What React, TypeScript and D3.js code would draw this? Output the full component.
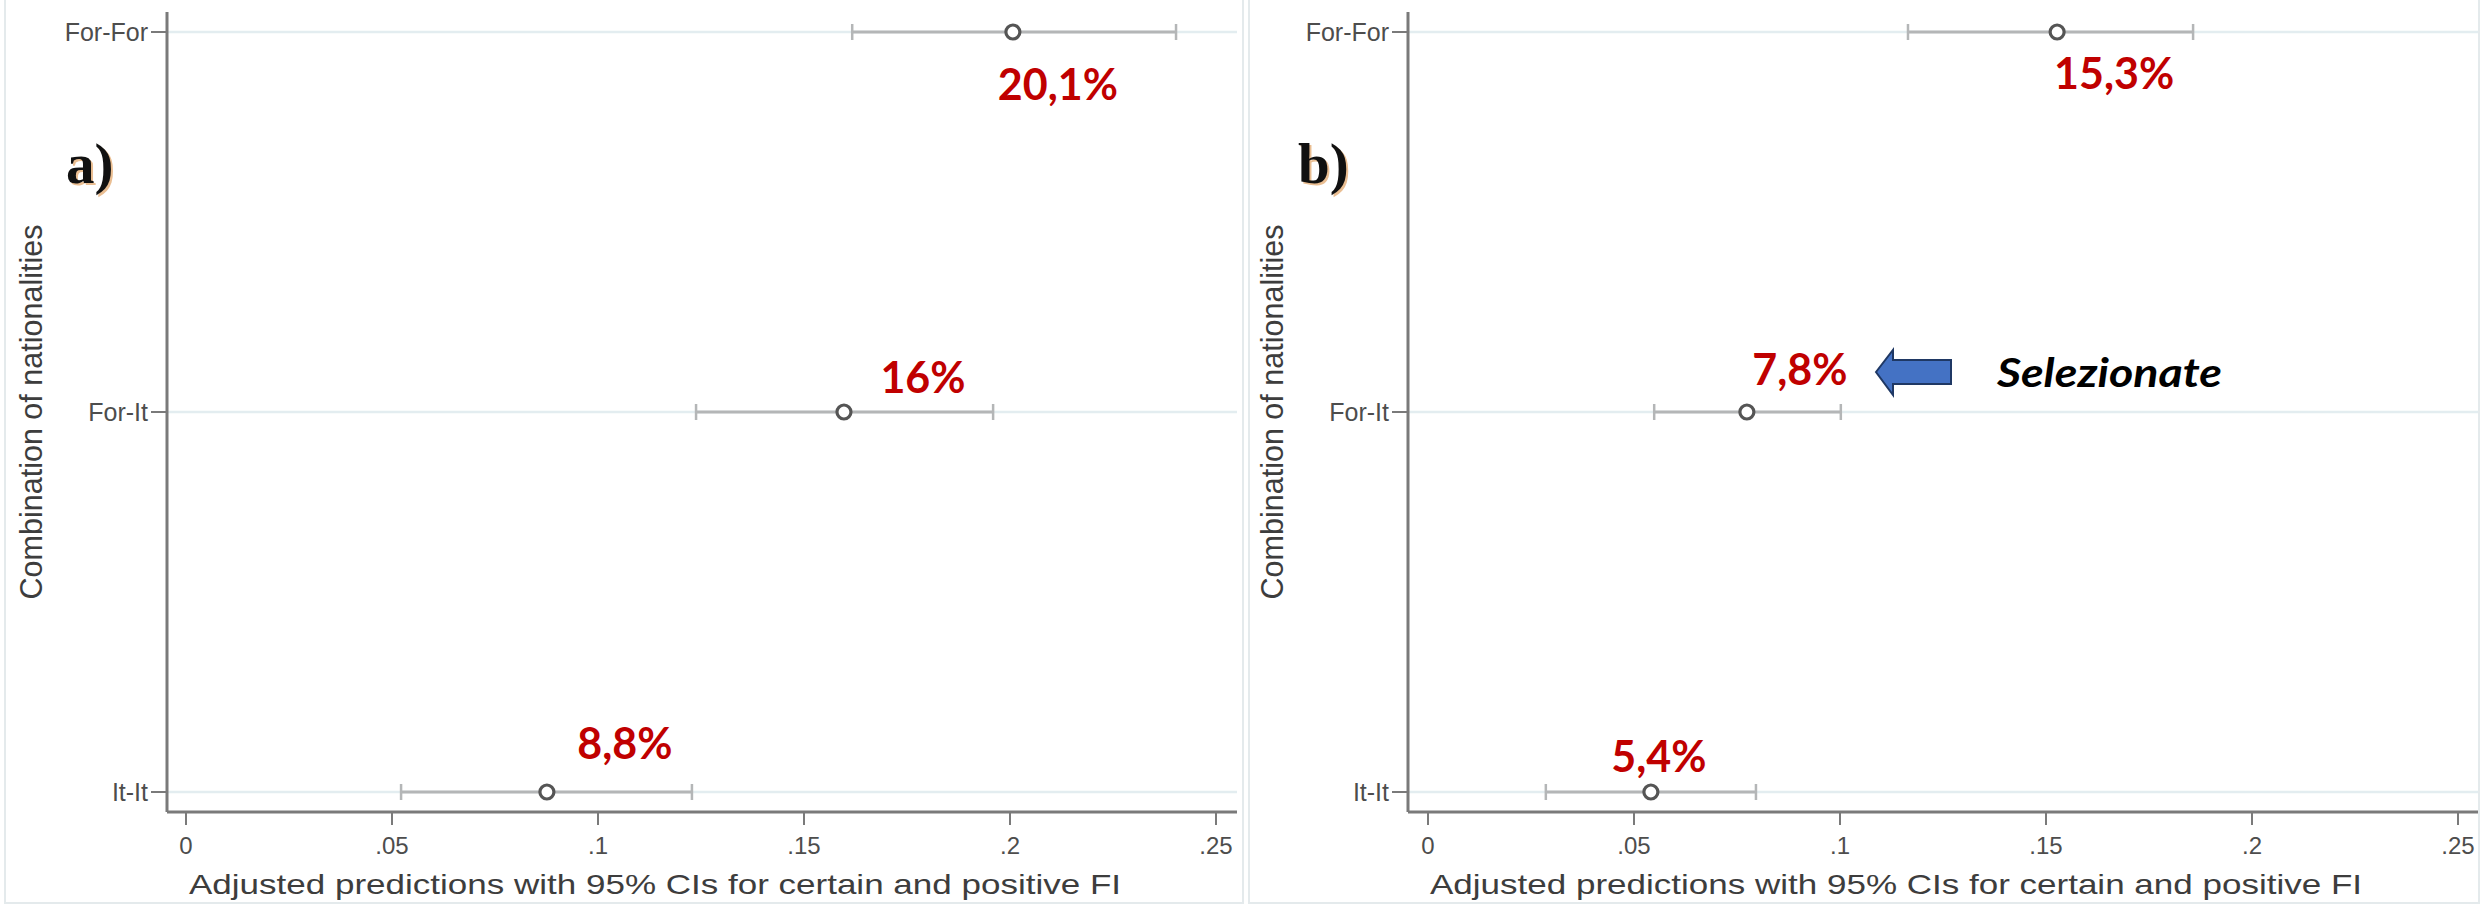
import React from "react";
import * as d3 from "d3";

const categories = ["For-For", "For-It", "It-It"];
const xTickValues = [0, 0.05, 0.1, 0.15, 0.2, 0.25];
const xTickLabels = ["0", ".05", ".1", ".15", ".2", ".25"];

const estA = [0.2007, 0.1597, 0.0876];
const lowA = [0.1617, 0.1238, 0.0522];
const highA = [0.2403, 0.1959, 0.1228];
const labelsA = ["20,1%", "16%", "8,8%"];

const estB = [0.1527, 0.0774, 0.0541];
const lowB = [0.1165, 0.0549, 0.0286];
const highB = [0.1857, 0.1002, 0.0796];
const labelsB = ["15,3%", "7,8%", "5,4%"];

const yTitle = "Combination of nationalities";
const xTitle = "Adjusted predictions with 95% CIs for certain and positive FI";

// annotation offsets (label centre relative to the point, baseline relative to the row)
const offsetsA = [[45, 68], [79, -19], [78, -33]];
const offsetsB = [[57, 57], [53, -27], [8, -20]];

const W = 2483;
const H = 905;

type PanelProps = {
  panelLeft: number;
  panelRight: number;
  axisX: number;
  xRange: [number, number];
  axisEnd: number;
  est: number[];
  low: number[];
  high: number[];
  labels: string[];
  offsets: number[][];
  letter: string;
  letterX: number;
  yTitleX: number;
  xTitleX: number;
};

const Panel = (p: PanelProps) => {
  const x = d3.scaleLinear().domain([0, 0.25]).range(p.xRange);
  const y = d3.scalePoint<string>().domain(categories).range([32, 792]);
  const axisY = 812;
  const axisTop = 12;
  const axisColor = "#7a7a7a";
  return (
    <g>
      <rect x={p.panelLeft} y={-3} width={p.panelRight - p.panelLeft} height={H + 1} fill="#fff" stroke="#e4eaec" strokeWidth={2} />
      {categories.map((c) => (
        <line key={"g" + c} x1={p.axisX} x2={p.axisEnd} y1={y(c)} y2={y(c)} stroke="#e3edf0" strokeWidth={2.5} />
      ))}
      <line x1={p.axisX} x2={p.axisX} y1={axisTop} y2={axisY} stroke={axisColor} strokeWidth={3} />
      {categories.map((c) => (
        <g key={"yt" + c}>
          <line x1={p.axisX - 16} x2={p.axisX} y1={y(c)} y2={y(c)} stroke={axisColor} strokeWidth={2} />
          <text x={p.axisX - 19} y={(y(c) as number) + 9} textAnchor="end" fontFamily="Liberation Sans, Arial, sans-serif" fontSize={25} fill="#4d4d4d">
            {c}
          </text>
        </g>
      ))}
      <line x1={p.axisX} x2={p.axisEnd} y1={axisY} y2={axisY} stroke={axisColor} strokeWidth={3} />
      {xTickValues.map((v, i) => (
        <g key={"xt" + v}>
          <line x1={x(v)} x2={x(v)} y1={axisY} y2={axisY + 13} stroke={axisColor} strokeWidth={2} />
          <text x={x(v)} y={axisY + 42} textAnchor="middle" fontFamily="Liberation Sans, Arial, sans-serif" fontSize={24} fill="#4d4d4d">
            {xTickLabels[i]}
          </text>
        </g>
      ))}
      <text
        transform={`translate(${p.yTitleX},412) rotate(-90)`}
        textAnchor="middle"
        fontFamily="Liberation Sans, Arial, sans-serif"
        fontSize={31}
        fill="#3d3d3d"
        textLength={375}
        lengthAdjust="spacingAndGlyphs"
      >
        {yTitle}
      </text>
      <text x={p.xTitleX} y={894} textAnchor="middle" fontFamily="Liberation Sans, Arial, sans-serif" fontSize={28} fill="#3d3d3d" textLength={932} lengthAdjust="spacingAndGlyphs">
        {xTitle}
      </text>
      {categories.map((c, i) => {
        const yy = y(c) as number;
        return (
          <g key={"pt" + c}>
            <line x1={x(p.low[i])} x2={x(p.high[i])} y1={yy} y2={yy} stroke="#b4b6b7" strokeWidth={3} />
            <line x1={x(p.low[i])} x2={x(p.low[i])} y1={yy - 8} y2={yy + 8} stroke="#b4b6b7" strokeWidth={2.5} />
            <line x1={x(p.high[i])} x2={x(p.high[i])} y1={yy - 8} y2={yy + 8} stroke="#b4b6b7" strokeWidth={2.5} />
            <circle cx={x(p.est[i])} cy={yy} r={7} fill="#fff" stroke="#555" strokeWidth={3.2} />
            <text
              x={x(p.est[i]) + p.offsets[i][0]}
              y={yy + p.offsets[i][1]}
              textAnchor="middle"
              fontFamily="Lato, 'Open Sans', sans-serif"
              fontWeight={700}
              fontSize={43}
              fill="#c00000"
            >
              {p.labels[i]}
            </text>
          </g>
        );
      })}
      <text x={p.letterX + 2} y={185} fontFamily="'Liberation Serif', 'DejaVu Serif', serif" fontWeight={700} fontSize={57} fill="#d98a3a" opacity={0.55}>
        {p.letter}
      </text>
      <text x={p.letterX} y={183} fontFamily="'Liberation Serif', 'DejaVu Serif', serif" fontWeight={700} fontSize={57} fill="#111">
        {p.letter}
      </text>
    </g>
  );
};

export default function App() {
  return (
    <svg width={W} height={H} viewBox={`0 0 ${W} ${H}`} style={{ position: "absolute", left: 0, top: 0, background: "#fff" }}>
      <rect x={0} y={0} width={W} height={H} fill="#fff" />
      <Panel
        panelLeft={5}
        panelRight={1243}
        axisX={167}
        xRange={[186, 1216]}
        axisEnd={1237}
        est={estA}
        low={lowA}
        high={highA}
        labels={labelsA}
        offsets={offsetsA}
        letter="a)"
        letterX={66}
        yTitleX={42}
        xTitleX={655}
      />
      <Panel
        panelLeft={1249}
        panelRight={2479}
        axisX={1408}
        xRange={[1428, 2458]}
        axisEnd={2478}
        est={estB}
        low={lowB}
        high={highB}
        labels={labelsB}
        offsets={offsetsB}
        letter="b)"
        letterX={1298}
        yTitleX={1283}
        xTitleX={1896}
      />
      <path
        d="M1876,372 L1893,350 L1893,360 L1951,360 L1951,384 L1893,384 L1893,395 Z"
        fill="#4472c4"
        stroke="#1f3864"
        strokeWidth={2}
      />
      <text x={1997} y={387} fontFamily="Lato, 'Open Sans', sans-serif" fontWeight={700} fontStyle="italic" fontSize={41} fill="#000" textLength={225} lengthAdjust="spacingAndGlyphs">
        Selezionate
      </text>
    </svg>
  );
}
